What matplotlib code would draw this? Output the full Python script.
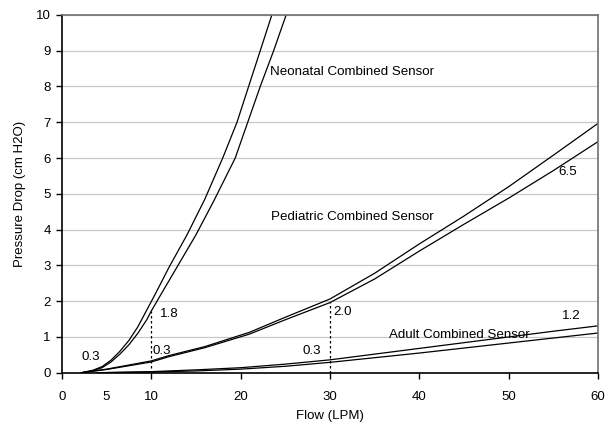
import matplotlib
matplotlib.use("Agg")
import matplotlib.pyplot as plt

plt.rcParams['font.family'] = ['Liberation Sans', 'DejaVu Sans']

# Neonatal sensor (two curves)
neo_hi_x = [2.2, 3.5, 4.5, 5.5, 6.5, 7.5, 8.5, 9.5, 10.5, 12.0, 14.0, 16.0, 18.0, 19.6, 20.9, 22.2, 23.5]
neo_hi_y = [0.0, 0.07, 0.17, 0.35, 0.6, 0.9, 1.28, 1.75, 2.22, 2.95, 3.85, 4.85, 6.0, 7.0, 8.0, 9.0, 10.0]
neo_lo_x = [2.2, 3.5, 4.5, 5.5, 6.5, 7.5, 8.5, 9.5, 10.0, 11.0, 13.0, 15.0, 17.0, 19.4, 20.8, 22.2, 23.7, 25.1]
neo_lo_y = [0.0, 0.06, 0.14, 0.3, 0.52, 0.78, 1.1, 1.48, 1.72, 2.15, 3.0, 3.85, 4.8, 6.0, 7.0, 8.0, 9.0, 10.0]

# Pediatric sensor
ped_x = [2.2, 5, 10, 12, 16, 21, 25, 30, 35, 40, 45, 50, 55, 60]
ped_hi_y = [0.0, 0.1, 0.33, 0.48, 0.73, 1.13, 1.55, 2.06, 2.78, 3.6, 4.38, 5.2, 6.08, 6.97]
ped_lo_y = [0.0, 0.09, 0.3, 0.45, 0.7, 1.08, 1.48, 1.96, 2.62, 3.4, 4.15, 4.88, 5.65, 6.46]

# Adult sensor
adu_x = [4, 10, 15, 20, 25, 30, 35, 40, 45, 50, 55, 60]
adu_hi_y = [0.0, 0.03, 0.08, 0.14, 0.24, 0.36, 0.52, 0.68, 0.84, 1.0, 1.16, 1.31]
adu_lo_y = [0.0, 0.02, 0.05, 0.1, 0.18, 0.29, 0.42, 0.55, 0.69, 0.83, 0.97, 1.11]

# Marker lines and annotations
vlines_x = [10, 30]
vlines_top = [1.72, 1.98]
ann_text = ["0.3", "1.8", "0.3", "2.0", "0.3", "6.5", "1.2",
            "Neonatal Combined Sensor", "Pediatric Combined Sensor", "Adult Combined Sensor"]
ann_x = [2.2, 11.0, 10.2, 30.4, 26.9, 55.6, 55.9, 23.3, 23.4, 36.6]
ann_y = [0.45, 1.65, 0.6, 1.7, 0.6, 5.6, 1.58, 8.4, 4.36, 1.06]

x_ticks = [0, 5, 10, 20, 30, 40, 50, 60]
y_ticks = list(range(0, 11))

fig = plt.figure(figsize=(6.06, 4.25), dpi=100)
ax = fig.add_axes([0.102, 0.123, 0.885, 0.842])

ax.set_xlim(0, 60)
ax.set_ylim(0, 10)
ax.set_yticks(y_ticks)
ax.set_xticks(x_ticks)
ax.grid(axis='y', color='#c8c8c8', linewidth=0.9)
ax.set_axisbelow(True)

lw = 0.9
for xs, ys in [(neo_hi_x, neo_hi_y), (neo_lo_x, neo_lo_y),
               (ped_x, ped_hi_y), (ped_x, ped_lo_y),
               (adu_x, adu_hi_y), (adu_x, adu_lo_y)]:
    ax.plot(xs, ys, color='black', linewidth=lw, clip_on=True)

for vx, vt in zip(vlines_x, vlines_top):
    ax.plot([vx, vx], [0, vt], color='black', linewidth=0.9, linestyle=(0, (2, 2)))

for t, x, y in zip(ann_text, ann_x, ann_y):
    ax.text(x, y, t, fontsize=9.6, ha='left', va='center', color='black')

for s in ['top', 'right']:
    ax.spines[s].set_color('#707070')
    ax.spines[s].set_linewidth(1.2)
for s in ['left', 'bottom']:
    ax.spines[s].set_color('black')
    ax.spines[s].set_linewidth(1.2)

ax.tick_params(axis='both', direction='out', length=4, width=1, labelsize=9.5, colors='black')
ax.tick_params(axis='x', pad=9)
ax.tick_params(axis='y', pad=4)
for tk, v in zip(ax.xaxis.get_major_ticks(), x_ticks):
    if v == 5:
        tk.tick1line.set_visible(False)

ax.set_xlabel("Flow (LPM)", fontsize=9.5, labelpad=5)
ax.set_ylabel("Pressure Drop (cm H2O)", fontsize=9.5, labelpad=7)

fig.savefig("out.png", dpi=100)
